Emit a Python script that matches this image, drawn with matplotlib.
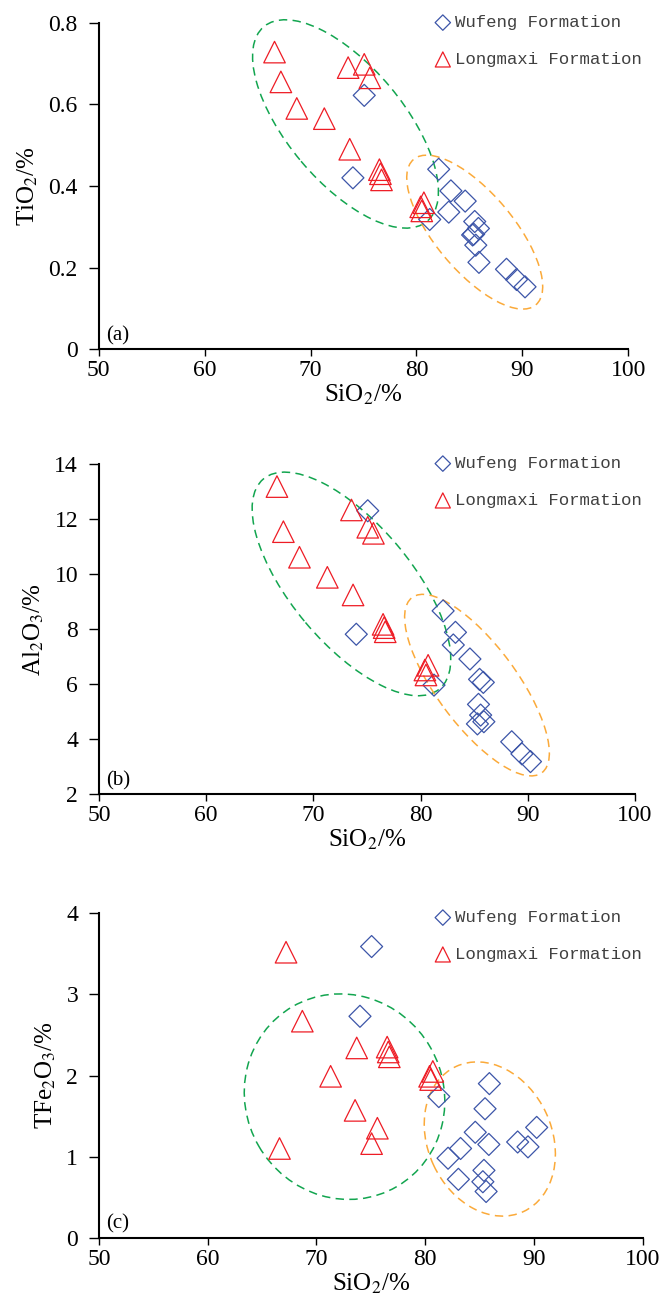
import numpy as np
import matplotlib
matplotlib.use("Agg")
import matplotlib.pyplot as plt
from matplotlib.patches import Ellipse
from matplotlib.transforms import ScaledTranslation

plt.rcParams['font.family'] = ['Liberation Serif', 'DejaVu Serif']
plt.rcParams['mathtext.fontset'] = 'stix'

# Wufeng Formation samples (%)
wufeng_sio2 = [74.0, 75.07, 81.25, 82.1, 83.05, 83.25, 84.6, 85.3, 85.4, 85.5, 85.6, 85.85, 85.9, 88.5, 89.45, 90.25]
wufeng_tio2 = [0.420, 0.622, 0.318, 0.441, 0.336, 0.388, 0.363, 0.280, 0.282, 0.313, 0.255, 0.296, 0.213, 0.196, 0.171, 0.153]
wufeng_al2o3 = [7.82, 12.31, 5.97, 8.67, 7.43, 7.89, 6.92, 4.56, 5.27, 6.18, 4.88, 6.07, 4.64, 3.91, 3.47, 3.19]
wufeng_tfe2o3 = [2.73, 3.59, 1.74, 0.98, 0.72, 1.10, 1.30, 0.69, 0.83, 1.59, 0.57, 1.15, 1.90, 1.18, 1.12, 1.36]

# Longmaxi Formation samples (%)
longmaxi_sio2 = [66.6, 67.2, 68.7, 71.3, 73.7, 73.55, 75.07, 75.6, 76.5, 76.6, 76.7, 80.4, 80.5, 80.7]
longmaxi_tio2 = [0.728, 0.655, 0.590, 0.565, 0.490, 0.690, 0.698, 0.665, 0.440, 0.430, 0.415, 0.349, 0.339, 0.359]
longmaxi_al2o3 = [13.19, 11.55, 10.62, 9.89, 9.25, 12.34, 11.71, 11.49, 8.18, 8.06, 7.91, 6.52, 6.34, 6.69]
longmaxi_tfe2o3 = [1.10, 3.52, 2.67, 1.99, 2.34, 1.57, 1.16, 1.35, 2.35, 2.29, 2.23, 1.99, 1.95, 2.05]

x_ticks = [50, 60, 70, 80, 90, 100]
panel_tags = ['(a)', '(b)', '(c)']
y_labels = [r'TiO$_2$/%', r'Al$_2$O$_3$/%', r'TFe$_2$O$_3$/%']
y_ticks = [[0, 0.2, 0.4, 0.6, 0.8], [2, 4, 6, 8, 10, 12, 14], [0, 1, 2, 3, 4]]
y_ticklabels = [['0', '0.2', '0.4', '0.6', '0.8'], None, None]

BLUE = '#3C55A8'
RED = '#EE1C25'
GREEN = '#12A54F'
ORANGE = '#FBAA3A'

W, H = 664, 1306
fig = plt.figure(figsize=(W / 100, H / 100), dpi=100)

# axes boxes in pixels: left, right, top, bottom
boxes = [(98.7, 628.3, 22.7, 349.3),
         (99.0, 635.0, 464.3, 794.3),
         (99.0, 642.7, 913.3, 1237.7)]
legend_top = [15, 456, 910]

# grouping ellipses: centre (data), width/height (px), angle (deg)
ellipses = [
    [(73.3, 0.552, 254, 116, -50, GREEN), (85.5, 0.287, 190, 78, -50, ORANGE)],
    [(73.55, 9.65, 274, 120, -50, GREEN), (85.26, 5.97, 218, 80, -53.5, ORANGE)],
    [(72.58, 1.739, 208, 198, -60, GREEN), (85.94, 1.217, 160, 124, -65, ORANGE)],
]

y_series = [(wufeng_tio2, longmaxi_tio2), (wufeng_al2o3, longmaxi_al2o3), (wufeng_tfe2o3, longmaxi_tfe2o3)]

for i in range(3):
    l, r, t, b = boxes[i]
    ax = fig.add_axes([l / W, 1 - b / H, (r - l) / W, (b - t) / H])
    wy, ly = y_series[i]

    ax.scatter(wufeng_sio2, wy, s=11.2 ** 2, marker='D', facecolors='none',
               edgecolors=BLUE, linewidths=0.9, label='Wufeng Formation', zorder=3)
    ax.scatter(longmaxi_sio2, ly, s=15.5 ** 2, marker='^', facecolors='none',
               edgecolors=RED, linewidths=0.9, label='Longmaxi Formation', zorder=3)

    ax.set_xlim(50, 100)
    ax.set_ylim(y_ticks[i][0], y_ticks[i][-1])
    ax.set_xticks(x_ticks)
    ax.set_yticks(y_ticks[i])
    if y_ticklabels[i]:
        ax.set_yticklabels(y_ticklabels[i])

    for side in ['top', 'right']:
        ax.spines[side].set_visible(False)
    for side in ['left', 'bottom']:
        ax.spines[side].set_linewidth(1.5)
        ax.spines[side].set_color('black')
    ax.tick_params(direction='out', width=1, labelsize=17)
    ax.tick_params(axis='x', length=5, pad=3)
    ax.tick_params(axis='y', length=7, pad=8)

    ax.set_xlabel(r'SiO$_2$/%', fontsize=18, labelpad=1)
    ax.set_ylabel(y_labels[i], fontsize=18, labelpad=6)

    ax.text(0.014, 0.012, panel_tags[i], transform=ax.transAxes,
            fontsize=15, ha='left', va='bottom')

    for cx, cy, ew, eh, ang, col in ellipses[i]:
        tr = fig.dpi_scale_trans + ScaledTranslation(cx, cy, ax.transData)
        e = Ellipse((0, 0), ew / 100, eh / 100, angle=ang, transform=tr,
                    fill=False, ec=col, lw=1.1, ls=(0, (5.5, 3.5)), clip_on=False, zorder=2)
        ax.add_patch(e)

    leg = ax.legend(loc='upper left', bbox_to_anchor=(435 / W, 1 - legend_top[i] / H),
                    bbox_transform=fig.transFigure, frameon=False, markerscale=0.7,
                    handlelength=0.9, handletextpad=0.25, labelspacing=1.25,
                    borderpad=0, borderaxespad=0, scatterpoints=1,
                    prop={'family': 'Liberation Mono', 'size': 12.5})
    for txt in leg.get_texts():
        txt.set_color('#404040')

fig.savefig('out.png', dpi=100)
